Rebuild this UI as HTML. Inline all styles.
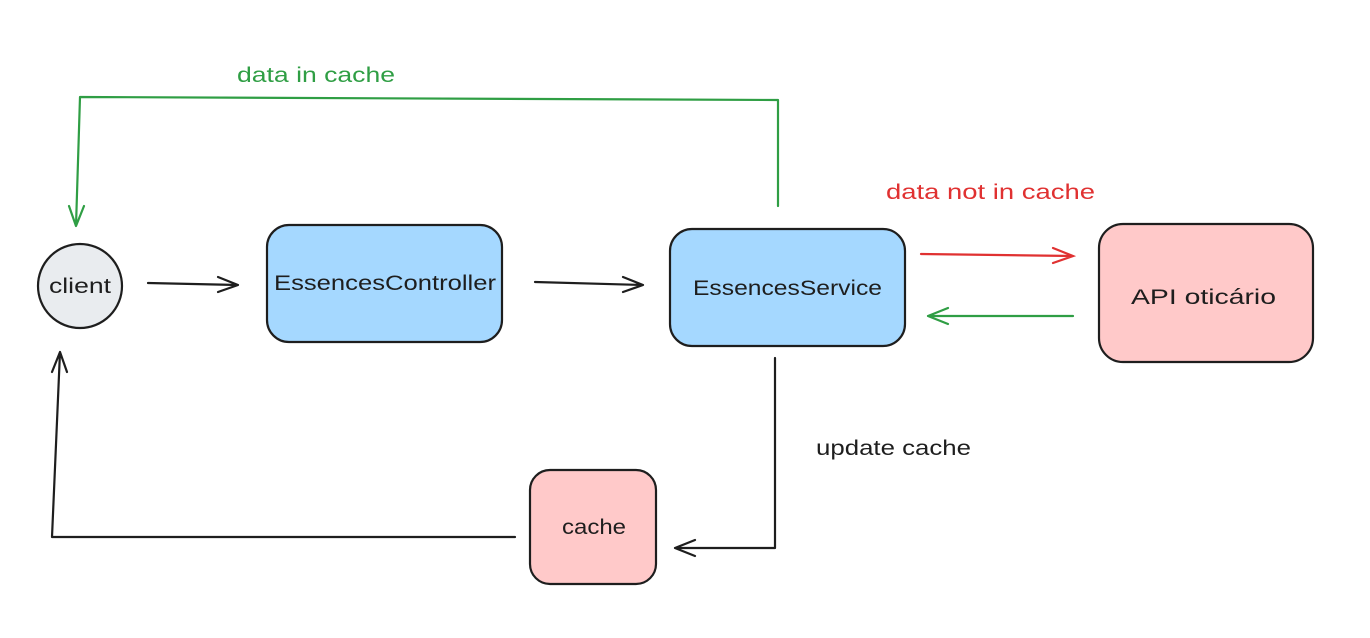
<!DOCTYPE html>
<html><head><meta charset="utf-8"><style>
html,body{margin:0;padding:0;background:#fff}
svg{display:block}
text{font-family:"Liberation Sans",sans-serif;font-size:21px}
</style></head><body>
<svg width="1370" height="638" viewBox="0 0 1370 638" xmlns="http://www.w3.org/2000/svg">
<g stroke="#1e1e1e" stroke-width="2.2" fill="none" stroke-linecap="round" stroke-linejoin="round">
<circle cx="80" cy="286" r="42" fill="#e9ecef"/>
<rect x="267" y="225" width="235" height="117" rx="22" fill="#a5d8ff"/>
<rect x="670" y="229" width="235" height="117" rx="22" fill="#a5d8ff"/>
<rect x="1099" y="224" width="214" height="138" rx="24" fill="#ffc9c9"/>
<rect x="530" y="470" width="126" height="114" rx="20" fill="#ffc9c9"/>
<path d="M148 283 L238 285 M218 277 L238 285 L218 292"/>
<path d="M535 282 L643 285 M623 277 L643 285 L623 292"/>
<path d="M775 358 L775 548 L675 548 M695 540 L675 548 L695 556"/>
<path d="M515 537 L52 537 L60 352 M52 372 L60 352 L67 372"/>
</g>
<g stroke="#e03131" stroke-width="2.2" fill="none" stroke-linecap="round">
<path d="M921 254 L1073 256 M1053 248 L1073 256 L1053 263"/>
</g>
<g stroke="#2f9e44" stroke-width="2.2" fill="none" stroke-linecap="round" stroke-linejoin="round">
<path d="M1073 316 L928 316 M948 308 L928 316 L948 324"/>
<path d="M778 206 L778 100 L80 97 L76 226 M69 206 L76 226 L84 206"/>
</g>
<text x="49" y="293" textLength="62" lengthAdjust="spacingAndGlyphs" fill="#1e1e1e">client</text>
<text x="274" y="290" textLength="222" lengthAdjust="spacingAndGlyphs" fill="#1e1e1e">EssencesController</text>
<text x="693" y="295" textLength="189" lengthAdjust="spacingAndGlyphs" fill="#1e1e1e">EssencesService</text>
<text x="1131" y="304" textLength="145" lengthAdjust="spacingAndGlyphs" fill="#1e1e1e">API oticário</text>
<text x="562" y="534" textLength="64" lengthAdjust="spacingAndGlyphs" fill="#1e1e1e">cache</text>
<text x="237" y="82" textLength="158" lengthAdjust="spacingAndGlyphs" fill="#2f9e44">data in cache</text>
<text x="886" y="199" textLength="209" lengthAdjust="spacingAndGlyphs" fill="#e03131">data not in cache</text>
<text x="816" y="455" textLength="155" lengthAdjust="spacingAndGlyphs" fill="#1e1e1e">update cache</text>
</svg>
</body></html>
